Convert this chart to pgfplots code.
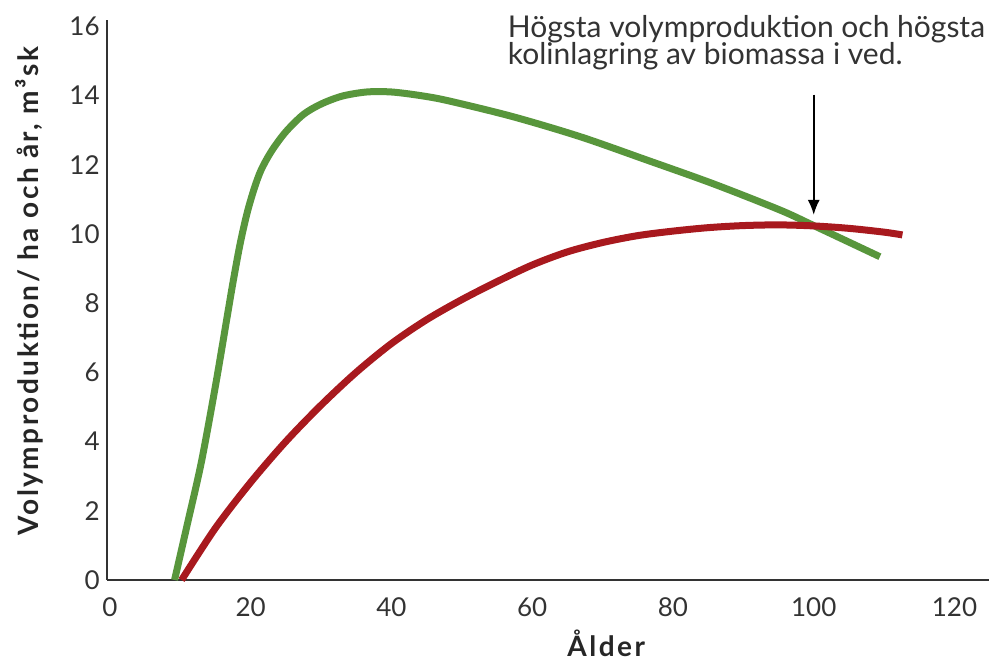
\documentclass[border=0pt]{standalone}
\usepackage{fontspec}
\setmainfont{Lato}
\usepackage{pgfplots}
\pgfplotsset{compat=1.18}
\usetikzlibrary{arrows.meta}

\definecolor{skoggron}{HTML}{58963C}
\definecolor{skogrod}{HTML}{A8191E}
\definecolor{axgra}{HTML}{333333}

\begin{document}
\begin{tikzpicture}
\begin{axis}[
  name=ax,
  scale only axis,
  width=441pt, height=280pt,
  xmin=-0.4, xmax=124.9,
  ymin=0, ymax=16.18,
  axis lines=left,
  axis line style={-, axgra, line width=1pt},
  major tick length=0pt,
  xtick={0,20,...,120},
  ytick={0,2,...,16},
  /pgf/number format/assume math mode=true,
  tick label style={font=\fontsize{13}{15}\selectfont, text=axgra},
  yticklabel style={anchor=east, inner sep=0pt, xshift=-3.5pt},
  xticklabel style={anchor=north, inner sep=0pt, yshift=-8.5pt},
  xlabel={Ålder},
  ylabel={Volymproduktion/ ha och år, m³sk},
  label style={font=\bfseries\fontsize{14}{16}\selectfont\addfontfeatures{LetterSpace=9}, text=black!85},
  xlabel style={at={(axis description cs:0.566,-0.136)}, anchor=base, inner sep=0pt},
  ylabel style={at={(axis description cs:-0.088,0.516)}, anchor=center, rotate=0},
  clip=false,
]
% grön kurva
\addplot[skoggron, line width=3.5pt, smooth, tension=0.5] coordinates {
  (9.2,0) (11,1.6) (13,3.4) (15,5.6) (16.5,7.4) (17.5,8.6) (18.5,9.7)
  (19.5,10.6) (20.5,11.3) (21.5,11.85) (23,12.4) (25,12.95) (27.5,13.45)
  (30,13.75) (33,13.98) (36.5,14.1) (40,14.1) (44,14.0) (48,13.85)
  (57.2,13.39) (66.8,12.81) (76.2,12.14) (85.7,11.45) (95.2,10.69)
  (99.9,10.25) (109.4,9.34)
};
% röd kurva
\addplot[skogrod, line width=3.5pt, smooth, tension=0.5] coordinates {
  (10.2,0) (15,1.50) (20,2.82) (25,4.00) (30,5.05) (35,6.00) (40,6.83)
  (45,7.52) (50,8.10) (55,8.62) (60,9.10) (65,9.48) (70,9.75) (75,9.95)
  (80,10.08) (85,10.18) (90,10.24) (95,10.26) (100,10.23) (105,10.16)
  (110,10.05) (112.6,9.97)
};
\draw[-{Latex[width=6pt,length=7.5pt]}, line width=0.8pt, black]
  (axis cs:100,14.02) -- (axis cs:100,10.55);
\node[anchor=base west, inner sep=0pt, text=black!80, font=\fontsize{15}{16}\selectfont]
  at (axis cs:56.5,15.66) {Högsta volymproduktion och högsta};
\node[anchor=base west, inner sep=0pt, text=black!80, font=\fontsize{15}{16}\selectfont]
  at (axis cs:56.5,14.88) {kolinlagring av biomassa i ved.};
\end{axis}
\pgfresetboundingbox
\path (ax.south west) ++(-53.5pt,-41pt) rectangle ++(494.5pt,331pt);
\end{tikzpicture}
\end{document}
